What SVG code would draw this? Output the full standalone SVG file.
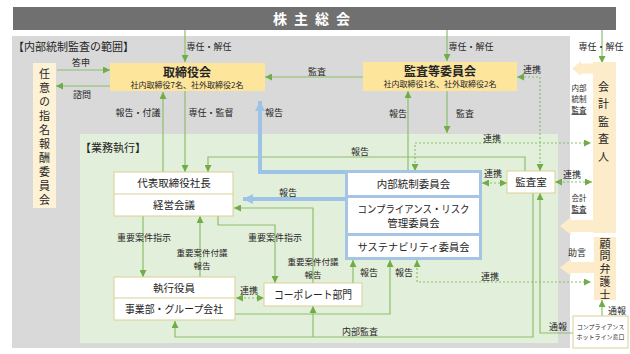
<svg xmlns="http://www.w3.org/2000/svg" width="630" height="354" viewBox="0 0 630 354">
<defs>
<style>
text{font-family:"Noto Sans CJK JP","Noto Sans",sans-serif;fill:#262626}
.lb{font-size:9px;text-anchor:middle}
.l2{font-size:8.5px;text-anchor:middle}
.sm{font-size:7.5px;text-anchor:middle}
.bx{font-size:10.5px;text-anchor:middle}
.g{fill:none;stroke:#8cbf6c;stroke-width:1.2}
.gd{fill:none;stroke:#8cbf6c;stroke-width:1.2;stroke-dasharray:2 2}
.bl{fill:none;stroke:#9dc3e6;stroke-width:4}
.wb{fill:#fff;stroke:#dccf96;stroke-width:1}
.yb{fill:#fde59c}
.cr{fill:#fdecc9}
.vt{writing-mode:vertical-rl;font-size:11px}
</style>
<marker id="ag" viewBox="0 0 10 10" refX="10" refY="5" markerWidth="7" markerHeight="7" markerUnits="userSpaceOnUse" orient="auto-start-reverse"><path d="M0,0 L10,5 L0,10 z" fill="#70ad47"/></marker>
<marker id="ab" viewBox="0 0 10 10" refX="10" refY="5" markerWidth="10" markerHeight="11" markerUnits="userSpaceOnUse" orient="auto"><path d="M0,0 L10,5 L0,10 z" fill="#9dc3e6"/></marker>
</defs>

<rect x="12" y="36" width="558" height="312" fill="#d9d9d9"/>
<rect x="80" y="134" width="478" height="209" fill="#e2efda"/>
<text x="13" y="51" style="font-size:11px">【内部統制監査の範囲】</text>
<text x="80" y="152" style="font-size:11px">【業務執行】</text>

<g id="connectors">
<path class="g" d="M185,30 V62" marker-end="url(#ag)"/>
<path class="g" d="M447,30 V61" marker-end="url(#ag)"/>
<path class="g" d="M602,30 V63" marker-end="url(#ag)"/>
<path class="g" d="M57,70 H110" marker-end="url(#ag)"/>
<path class="g" d="M110,86 H56" marker-end="url(#ag)"/>
<path class="g" d="M363,77 H265" marker-end="url(#ag)"/>
<path class="gd" d="M540,171 V77 H517" marker-start="url(#ag)" marker-end="url(#ag)"/>
<path class="g" d="M163,172 V92" marker-end="url(#ag)"/>
<path class="g" d="M185,91 V172" marker-end="url(#ag)"/>
<path class="g" d="M408,172 V91" marker-end="url(#ag)"/>
<path class="g" d="M447,91 V133" marker-end="url(#ag)"/>
<path class="gd" d="M415,171 V143 H591" marker-start="url(#ag)" marker-end="url(#ag)"/>
<path class="g" d="M525,171 V157 H208 V172" marker-end="url(#ag)"/>
<path class="bl" d="M345,172 H260 V101" marker-end="url(#ab)"/>
<path class="bl" d="M345,199 H243" marker-end="url(#ab)"/>
<path class="g" d="M143,216 V277" marker-end="url(#ag)"/>
<path class="g" d="M200,277 V216" marker-end="url(#ag)"/>
<path class="g" d="M218,216 V225 H275 V283" marker-end="url(#ag)"/>
<path class="g" d="M313,283 V208 H234" marker-end="url(#ag)"/>
<path class="gd" d="M236,298 H264" marker-start="url(#ag)" marker-end="url(#ag)"/>
<path class="g" d="M353,283 V260" marker-end="url(#ag)"/>
<path class="g" d="M235,314 H390 V260" marker-end="url(#ag)"/>
<path class="gd" d="M417,260 V282 H591" marker-start="url(#ag)" marker-end="url(#ag)"/>
<path class="g" d="M533,193 V337 H175 V321" marker-end="url(#ag)"/>
<path class="g" d="M313,337 V306" marker-end="url(#ag)"/>
<path class="g" d="M573,333 H540 V193" marker-end="url(#ag)"/>
<path class="g" d="M602,316 V300" marker-end="url(#ag)"/>
<path class="gd" d="M482,183 H507" marker-start="url(#ag)" marker-end="url(#ag)"/>
<path class="gd" d="M555,182 H592" marker-start="url(#ag)" marker-end="url(#ag)"/>

<text class="lb" x="209" y="50">専任・解任</text>
<text class="lb" x="471" y="50">専任・解任</text>
<text class="lb" x="601" y="50">専任・解任</text>
<text class="lb" x="81" y="66">答申</text>
<text class="lb" x="82" y="98">諮問</text>
<text class="lb" x="317" y="75">監査</text>
<text class="lb" x="532" y="73">連携</text>
<text class="lb" x="138" y="116">報告・付議</text>
<text class="lb" x="211" y="116">専任・監督</text>
<text class="lb" x="274" y="116">報告</text>
<text class="lb" x="398" y="117">報告</text>
<text class="lb" x="465" y="117">監査</text>
<text class="lb" x="492" y="142">連携</text>
<text class="lb" x="360" y="155">報告</text>
<text class="lb" x="288" y="196">報告</text>
<text class="lb" x="144" y="241">重要案件指示</text>
<text class="l2" x="202" y="256">重要案件付議<tspan x="202" dy="12.5">報告</tspan></text>
<text class="lb" x="275" y="241">重要案件指示</text>
<text class="l2" x="313" y="265">重要案件付議<tspan x="313" dy="12.5">報告</tspan></text>
<text class="lb" x="249" y="294">連携</text>
<text class="lb" x="369" y="276">報告</text>
<text class="lb" x="404" y="276">報告</text>
<text class="lb" x="490" y="280">連携</text>
<text class="lb" x="360" y="335">内部監査</text>
<text class="lb" x="558" y="330">通報</text>
<text class="lb" x="617" y="314">通報</text>
<text class="lb" x="493" y="177">連携</text>
<text class="lb" x="572" y="178">連携</text>
<text class="sm" x="579" y="91">内部<tspan x="579" dy="11">統制</tspan><tspan x="579" dy="11" text-decoration="underline">監査</tspan></text>
<text class="sm" x="579" y="201">会計<tspan x="579" dy="11" text-decoration="underline">監査</tspan></text>
<text class="lb" x="577" y="256">助言</text>
</g>

<g id="shareholders">
<rect x="13" y="7" width="603" height="23" fill="#707070"/>
<text x="315" y="24" style="font-size:14px;font-weight:bold;fill:#fff;letter-spacing:7px;text-anchor:middle">株主総会</text>
</g>

<g id="nomination">
<rect x="33" y="63" width="23" height="145" fill="#fdf1d6"/>
<text class="vt" x="44.5" y="68" style="letter-spacing:3px">任意の指名報酬委員会</text>
</g>

<g id="board">
<rect class="yb" x="110" y="63" width="155" height="28"/>
<text x="187" y="77" style="font-size:12px;font-weight:bold;text-anchor:middle">取締役会</text>
<text x="187" y="87.5" style="font-size:8px;text-anchor:middle">社内取締役7名、社外取締役2名</text>
</g>

<g id="audit-committee">
<rect class="yb" x="363" y="62" width="154" height="29"/>
<text x="440" y="76" style="font-size:12px;font-weight:bold;text-anchor:middle">監査等委員会</text>
<text x="440" y="87" style="font-size:8px;text-anchor:middle">社内取締役1名、社外取締役2名</text>
</g>

<g id="accounting-auditor">
<path class="cr" d="M593,62 H616 V233 H593 V232 H571 V235 L560,226 L571,217 V220 H593 V73.5 H581 V76 L572,68.5 L581,61 V63.5 H593 Z"/>
<text class="vt" x="603.5" y="81" style="letter-spacing:6.5px">会計監査人</text>
</g>

<g id="lawyer">
<rect class="cr" x="594" y="237" width="22" height="63"/>
<path class="cr" d="M594,262 H571 V259 L560,267.5 L571,276 V273 H594 Z"/>
<text class="vt" x="605" y="238" style="letter-spacing:1.8px">顧問弁護士</text>
</g>

<g id="hotline">
<rect class="wb" x="573" y="316" width="55" height="32"/>
<text x="600.5" y="329" style="font-size:6px;text-anchor:middle">コンプライアンス<tspan x="600.5" dy="10">ホットライン窓口</tspan></text>
</g>

<g id="president">
<rect class="wb" x="114" y="172" width="119" height="44"/>
<line x1="114" y1="194" x2="233" y2="194" stroke="#dccf96"/>
<text class="bx" x="174" y="187">代表取締役社長</text>
<text class="bx" x="174" y="209">経営会議</text>
</g>

<g id="executives">
<rect class="wb" x="114" y="277" width="121" height="43"/>
<line x1="114" y1="298" x2="235" y2="298" stroke="#dccf96"/>
<text class="bx" x="174" y="292">執行役員</text>
<text class="bx" x="174" y="313" textLength="98" lengthAdjust="spacingAndGlyphs">事業部・グループ会社</text>
</g>

<g id="corporate">
<rect class="wb" x="264" y="283" width="98" height="23"/>
<text x="313" y="298.5" style="font-size:11px;text-anchor:middle" textLength="78" lengthAdjust="spacingAndGlyphs">コーポレート部門</text>
</g>

<g id="committees">
<rect x="345" y="170" width="137" height="90" fill="#a6c5e5"/>
<rect x="348" y="173" width="131" height="22" fill="#fff"/>
<rect x="348" y="198" width="131" height="35" fill="#fff"/>
<rect x="348" y="236" width="131" height="21" fill="#fff"/>
<text class="bx" x="413.5" y="188">内部統制委員会</text>
<text class="bx" x="413.5" y="213"><tspan textLength="112" lengthAdjust="spacingAndGlyphs">コンプライアンス・リスク</tspan><tspan x="413.5" dy="14">管理委員会</tspan></text>
<text class="bx" x="413.5" y="250.5" textLength="112" lengthAdjust="spacingAndGlyphs">サステナビリティ委員会</text>
</g>

<g id="audit-office">
<rect class="wb" x="507" y="171" width="48" height="22"/>
<text class="bx" x="531" y="186">監査室</text>
</g>
</svg>
